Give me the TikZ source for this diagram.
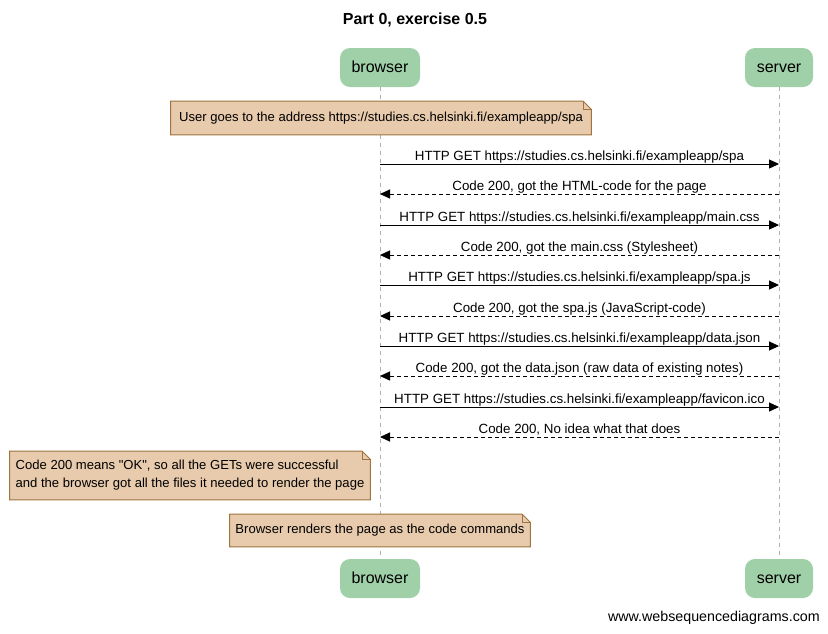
\documentclass[tikz,border=0pt]{standalone}
\usepackage{fontspec}
\setmainfont{Liberation Sans}
\usetikzlibrary{arrows.meta,backgrounds}

\definecolor{actorgreen}{RGB}{160,208,168}
\definecolor{notefill}{RGB}{232,202,172}
\definecolor{noteline}{RGB}{158,116,64}
\definecolor{lifegray}{RGB}{176,176,176}

\tikzset{
    actor/.style={fill=actorgreen, rounded corners=7.5pt, minimum height=29.25pt, inner sep=0pt, text height=9pt, text depth=1pt, font=\fontsize{12}{14}\selectfont},
    note/.style={inner sep=0pt, font=\fontsize{9.8}{13.5}\selectfont},
    msg/.style={-{Triangle[length=7.5pt,width=6.8pt]}, line width=0.75pt},
    reply/.style={msg, dash pattern=on 3pt off 2.25pt},
    msgtext/.style={anchor=base, yshift=3pt, inner sep=0pt, font=\fontsize{10}{12}\selectfont},
    lifeline/.style={lifegray, dash pattern=on 3pt off 3pt, line width=0.6pt},
}

\newcommand{\notebox}[1]{%
    \begin{scope}[on background layer]
        \draw[fill=notefill, draw=noteline, line width=0.75pt] (#1.south west) -- (#1.south east) -- ([yshift=-6pt]#1.north east) -- ([xshift=-6pt]#1.north east) -- (#1.north west) -- cycle;
        \draw[noteline, line width=0.6pt] ([xshift=-6pt]#1.north east) |- ([yshift=-6pt]#1.north east);
    \end{scope}}

\begin{document}
\begin{tikzpicture}[x=0.75pt, y=-0.75pt]
    \useasboundingbox (0,0) rectangle (828,633);

    \node[font=\bfseries\fontsize{12}{14}\selectfont] (title) at (415,20) {Part 0, exercise 0.5};

    \node[actor, minimum width=60pt] (browsertop) at (380,67.5) {browser};
    \node[actor, minimum width=51pt] (servertop) at (779,67.5) {server};
    \node[actor, minimum width=60pt] (browserbot) at (380,578.5) {browser};
    \node[actor, minimum width=51pt] (serverbot) at (779,578.5) {server};

    \begin{scope}[on background layer]
        \draw[lifeline] (browsertop) -- (browserbot);
        \draw[lifeline] (servertop) -- (serverbot);
    \end{scope}

    \node[note, minimum width=315pt, minimum height=24.75pt] (visit) at (381,118) {User goes to the address https://studies.cs.helsinki.fi/exampleapp/spa};
    \notebox{visit}

    \foreach \i/\y in {1/164, 2/194, 3/225, 4/255, 5/285, 6/316, 7/346, 8/376, 9/407, 10/437} {
        \coordinate (b\i) at (380,\y);
        \coordinate (s\i) at (779,\y);
    }

    \draw[msg] (b1) -- node[msgtext] {HTTP GET https://studies.cs.helsinki.fi/exampleapp/spa} (s1);
    \draw[reply] (s2) -- node[msgtext] {Code 200, got the HTML-code for the page} (b2);
    \draw[msg] (b3) -- node[msgtext] {HTTP GET https://studies.cs.helsinki.fi/exampleapp/main.css} (s3);
    \draw[reply] (s4) -- node[msgtext] {Code 200, got the main.css (Stylesheet)} (b4);
    \draw[msg] (b5) -- node[msgtext] {HTTP GET https://studies.cs.helsinki.fi/exampleapp/spa.js} (s5);
    \draw[reply] (s6) -- node[msgtext] {Code 200, got the spa.js (JavaScript-code)} (b6);
    \draw[msg] (b7) -- node[msgtext] {HTTP GET https://studies.cs.helsinki.fi/exampleapp/data.json} (s7);
    \draw[reply] (s8) -- node[msgtext] {Code 200, got the data.json (raw data of existing notes)} (b8);
    \draw[msg] (b9) -- node[msgtext] {HTTP GET https://studies.cs.helsinki.fi/exampleapp/favicon.ico} (s9);
    \draw[reply] (s10) -- node[msgtext] {Code 200, No idea what that does} (b10);

    \node[note, minimum width=270pt, minimum height=36pt, align=left] (okay) at (190,475.5) {Code 200 means \textquotedbl OK\textquotedbl, so all the GETs were successful\\and the browser got all the files it needed to render the page};
    \notebox{okay}

    \node[note, minimum width=225pt, minimum height=24pt] (render) at (380,530.5) {Browser renders the page as the code commands};
    \notebox{render}

    \node[anchor=east, inner sep=0pt, font=\fontsize{10.7}{12}\selectfont] (site) at (820,618) {www.websequencediagrams.com};
\end{tikzpicture}
\end{document}
